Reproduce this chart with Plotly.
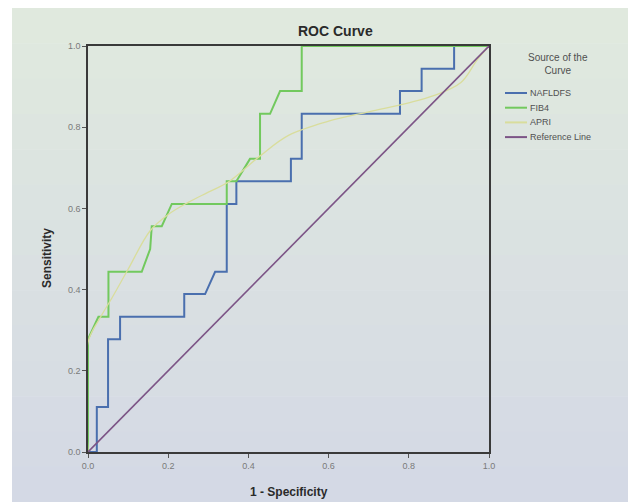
import plotly.graph_objects as go

# ---- data ----
fpr_nafldfs = [0, 0.022, 0.022, 0.05, 0.05, 0.08, 0.08, 0.24, 0.24, 0.292, 0.317, 0.346, 0.346,
               0.37, 0.37, 0.506, 0.506, 0.533, 0.533, 0.778, 0.778, 0.832, 0.832, 0.913, 0.913, 1.0]
tpr_nafldfs = [0, 0, 0.111, 0.111, 0.278, 0.278, 0.333, 0.333, 0.389, 0.389, 0.444, 0.444, 0.611,
               0.611, 0.667, 0.667, 0.722, 0.722, 0.833, 0.833, 0.889, 0.889, 0.944, 0.944, 1.0, 1.0]

fpr_fib4 = [0, 0, 0.026, 0.051, 0.051, 0.134, 0.155, 0.159, 0.184, 0.209, 0.346, 0.346, 0.37,
            0.404, 0.429, 0.429, 0.454, 0.479, 0.533, 0.533, 1.0]
tpr_fib4 = [0, 0.278, 0.333, 0.333, 0.444, 0.444, 0.50, 0.556, 0.556, 0.611, 0.611, 0.667, 0.667,
            0.722, 0.722, 0.833, 0.833, 0.889, 0.889, 1.0, 1.0]

fpr_apri = [0, 0, 0.03, 0.06, 0.10, 0.155, 0.2, 0.25, 0.3, 0.35, 0.43, 0.5, 0.6, 0.7, 0.8,
            0.86, 0.93, 0.97, 1.0]
tpr_apri = [0, 0.27, 0.33, 0.38, 0.45, 0.545, 0.585, 0.615, 0.64, 0.665, 0.73, 0.78, 0.815,
            0.838, 0.86, 0.877, 0.91, 0.965, 1.0]

ref_x = [0, 1]
ref_y = [0, 1]

tick_vals = [0.0, 0.2, 0.4, 0.6, 0.8, 1.0]
tick_text = ["0.0", "0.2", "0.4", "0.6", "0.8", "1.0"]

series_names = ["NAFLDFS", "FIB4", "APRI", "Reference Line"]
series_colors = ["#4a6fae", "#72c95e", "#d9dd9c", "#7c5486"]
legend_title = "Source of the<br>Curve"

# ---- layout geometry (pixels, in window coordinates; the page body adds an 8px margin) ----
OFF = 8
WIN_W, WIN_H = 636, 502
W, H = WIN_W - OFF, WIN_H - OFF
PLOT_L, PLOT_R, PLOT_T, PLOT_B = 88, 489, 46, 452
L, T = PLOT_L - OFF, PLOT_T - OFF
R, B = W - (PLOT_R - OFF), H - (PLOT_B - OFF)
PW, PH = PLOT_R - PLOT_L, PLOT_B - PLOT_T


def px_x(p):
    return (p - PLOT_L) / PW


def px_y(p):
    return (PLOT_B - p) / PH


FONT = "Liberation Sans, Arial, sans-serif"

fig = go.Figure()
fig.add_trace(go.Scatter(x=fpr_nafldfs, y=tpr_nafldfs, mode="lines", name=series_names[0],
                         line=dict(color=series_colors[0], width=2)))
fig.add_trace(go.Scatter(x=fpr_fib4, y=tpr_fib4, mode="lines", name=series_names[1],
                         line=dict(color=series_colors[1], width=2)))
fig.add_trace(go.Scatter(x=fpr_apri, y=tpr_apri, mode="lines", name=series_names[2],
                         line=dict(color=series_colors[2], width=1.3, shape="spline")))
fig.add_trace(go.Scatter(x=ref_x, y=ref_y, mode="lines", name=series_names[3],
                         line=dict(color=series_colors[3], width=1.6)))

# background: photo-like gradient (green-grey at top to lavender-grey at bottom)
shapes = []
top_c = (224, 233, 222)
bot_c = (212, 217, 229)
n = 14
for i in range(n):
    t = i / (n - 1)
    c = tuple(int(round(top_c[k] + (bot_c[k] - top_c[k]) * t)) for k in range(3))
    y0p = OFF + (WIN_H - OFF) * i / n
    y1p = OFF + (WIN_H - OFF) * (i + 1) / n
    shapes.append(dict(type="rect", xref="paper", yref="paper", layer="below",
                       x0=px_x(12), x1=px_x(WIN_W + 2), y0=px_y(y1p + 0.5), y1=px_y(y0p),
                       line=dict(width=0), fillcolor="rgb(%d,%d,%d)" % c))

annotations = [
    dict(text="<b>ROC Curve</b>", x=px_x(335), y=px_y(31), xref="paper", yref="paper",
         showarrow=False, xanchor="center", yanchor="middle",
         font=dict(family=FONT, size=14, color="#2a2a2a")),
    dict(text="<b>Sensitivity</b>", x=px_x(47), y=px_y(258), xref="paper", yref="paper",
         showarrow=False, textangle=-90, xanchor="center", yanchor="middle",
         font=dict(family=FONT, size=12, color="#2a2a2a")),
    dict(text="<b>1 - Specificity</b>", x=px_x(289), y=px_y(492), xref="paper", yref="paper",
         showarrow=False, xanchor="center", yanchor="middle",
         font=dict(family=FONT, size=12, color="#2a2a2a")),
    dict(text=legend_title, x=px_x(558), y=px_y(64), xref="paper", yref="paper",
         showarrow=False, xanchor="center", yanchor="middle", align="center",
         font=dict(family=FONT, size=10, color="#505050")),
]

# legend (drawn compactly, like the SPSS legend)
leg_y0, leg_dy = 93, 14.7
for i, (name, col) in enumerate(zip(series_names, series_colors)):
    yy = leg_y0 + i * leg_dy
    shapes.append(dict(type="line", xref="paper", yref="paper", x0=px_x(505), x1=px_x(527),
                       y0=px_y(yy), y1=px_y(yy), line=dict(color=col, width=2)))
    annotations.append(dict(text=name, x=px_x(528), y=px_y(yy), xref="paper", yref="paper",
                            showarrow=False, xanchor="left", yanchor="middle",
                            font=dict(family=FONT, size=9, color="#505050")))

axis_common = dict(range=[0, 1], tickvals=tick_vals, ticktext=tick_text, showgrid=False,
                   zeroline=False, showline=True, linecolor="#3a3a3a", linewidth=1.6,
                   mirror=True, ticks="outside", ticklen=4, tickcolor="#555",
                   tickfont=dict(family=FONT, size=9, color="#7a7a7a"))

fig.update_layout(
    width=W, height=H,
    margin=dict(l=L, r=R, t=T, b=B, pad=0),
    paper_bgcolor="#ffffff",
    plot_bgcolor="rgba(0,0,0,0)",
    shapes=shapes,
    xaxis=dict(**axis_common),
    yaxis=dict(**axis_common),
    showlegend=False,
    annotations=annotations,
)

fig.write_html("out.html")
